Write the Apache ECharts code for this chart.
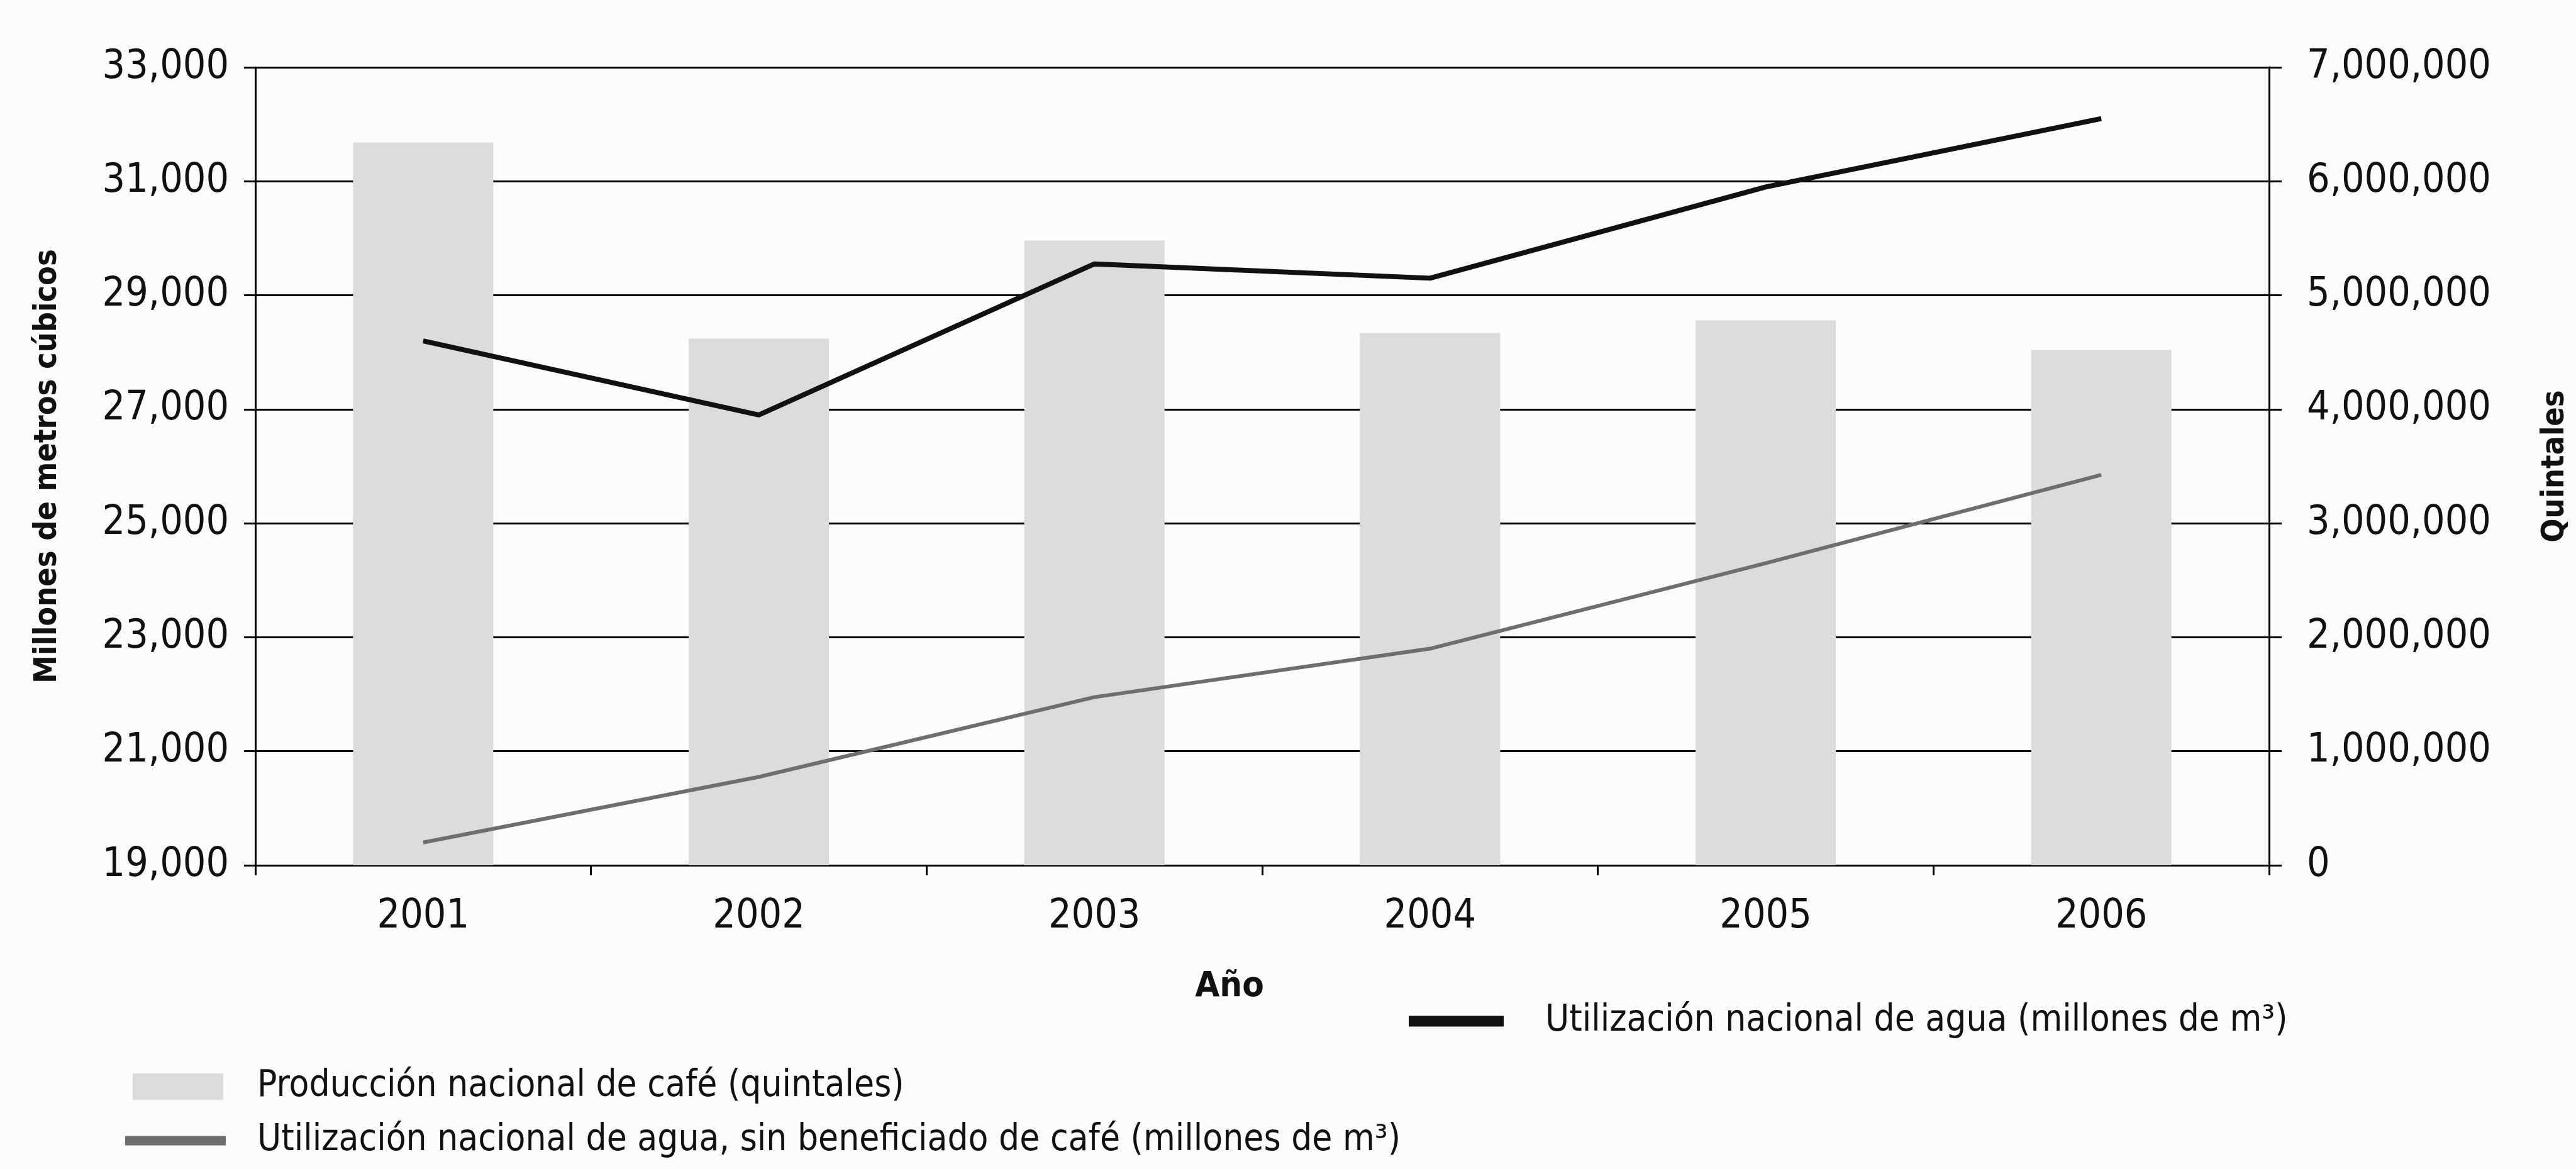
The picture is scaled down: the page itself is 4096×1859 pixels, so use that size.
<!DOCTYPE html>
<html>
<head>
<meta charset="utf-8">
<script src="https://cdn.jsdelivr.net/npm/echarts@6/dist/echarts.min.js"></script>
<style>
html,body{margin:0;padding:0;background:#fcfcfc;}
#chart{width:4096px;height:1859px;}
</style>
</head>
<body>
<div id="chart"></div>
<script>
var years=["2001","2002","2003","2004","2005","2006"];
var cafe=[6340000,4620000,5480000,4670000,4780000,4520000];
var aguaTotal=[28200,26900,29550,29300,30900,32100];
var aguaSinCafe=[19400,20550,21950,22800,24300,25850];
var leftMin=19000,leftMax=33000,leftStep=2000;
var rightMin=0,rightMax=7000000,rightStep=1000000;
var nameCafe="Producción nacional de café (quintales)";
var nameSin="Utilización nacional de agua, sin beneficiado de café (millones de m³)";
var nameTotal="Utilización nacional de agua (millones de m³)";

var FONT="'Liberation Sans Narrow','DejaVu Sans Condensed','Liberation Sans',sans-serif";
function fmt(v){
	return Math.round(v).toString().replace(/\B(?=(\d{3})+(?!\d))/g,",");
}
var chart=echarts.init(document.getElementById("chart"));
var opt={
	backgroundColor:"#fcfcfc",
	animation:false,
	textStyle:{fontFamily:FONT,color:"#111"},
	grid:{left:406,right:481,top:107,bottom:483},
	legend:[
		{data:[{name:nameCafe,icon:"rect"}],left:206,top:1694,itemWidth:144,itemHeight:42,selectedMode:false,
			textStyle:{fontFamily:FONT,fontSize:58,color:"#111",padding:[0,0,0,49]}},
		{data:[{name:nameSin,icon:"rect"}],left:194,top:1780,itemWidth:160,itemHeight:15,selectedMode:false,
			textStyle:{fontFamily:FONT,fontSize:58,color:"#111",padding:[0,0,0,45]}},
		{data:[{name:nameTotal,icon:"rect"}],left:2235,top:1590,itemWidth:151,itemHeight:17,selectedMode:false,
			textStyle:{fontFamily:FONT,fontSize:58,color:"#111",padding:[0,0,0,61]}}
	],
	xAxis:{
		type:"category",
		data:years,
		boundaryGap:true,
		name:"Año",
		nameLocation:"middle",
		nameGap:165,
		nameTextStyle:{fontFamily:FONT,fontSize:56,fontWeight:"bold",color:"#111",padding:[0,104,0,0]},
		axisLine:{lineStyle:{color:"#000",width:3}},
		axisTick:{show:true,length:16,lineStyle:{color:"#000",width:3}},
		axisLabel:{fontFamily:FONT,fontSize:64,color:"#111",margin:50}
	},
	yAxis:[
		{
			type:"value",
			min:leftMin,max:leftMax,interval:leftStep,
			position:"left",
			name:"Millones de metros cúbicos",
			nameLocation:"middle",
			nameGap:305,
			nameTextStyle:{fontFamily:FONT,fontSize:50,fontWeight:"bold",color:"#111"},
			axisLine:{show:true,lineStyle:{color:"#000",width:3}},
			axisTick:{show:true,length:18,lineStyle:{color:"#000",width:3}},
			axisLabel:{fontFamily:FONT,fontSize:64,color:"#111",margin:42,formatter:fmt},
			splitLine:{show:true,lineStyle:{color:"#000",width:3}}
		},
		{
			type:"value",
			min:rightMin,max:rightMax,interval:rightStep,
			position:"right",
			name:"Quintales",
			nameLocation:"middle",
			nameGap:430,
			nameTextStyle:{fontFamily:FONT,fontSize:50,fontWeight:"bold",color:"#111"},
			axisLine:{show:true,lineStyle:{color:"#000",width:3}},
			axisTick:{show:true,length:20,lineStyle:{color:"#000",width:3}},
			axisLabel:{fontFamily:FONT,fontSize:64,color:"#111",margin:60,formatter:fmt},
			splitLine:{show:false}
		}
	],
	series:[
		{
			name:nameCafe,
			type:"bar",
			yAxisIndex:1,
			data:cafe,
			barWidth:223,
			color:"#dcdcdc",
			itemStyle:{color:"#dcdcdc"}
		},
		{
			name:nameSin,
			type:"line",
			yAxisIndex:0,
			data:aguaSinCafe,
			symbol:"none",
			color:"#6e6e6e",
			lineStyle:{color:"#6e6e6e",width:6}
		},
		{
			name:nameTotal,
			type:"line",
			yAxisIndex:0,
			data:aguaTotal,
			symbol:"none",
			color:"#111",
			lineStyle:{color:"#111",width:8}
		}
	]
};
chart.setOption(opt);
</script>
</body>
</html>
